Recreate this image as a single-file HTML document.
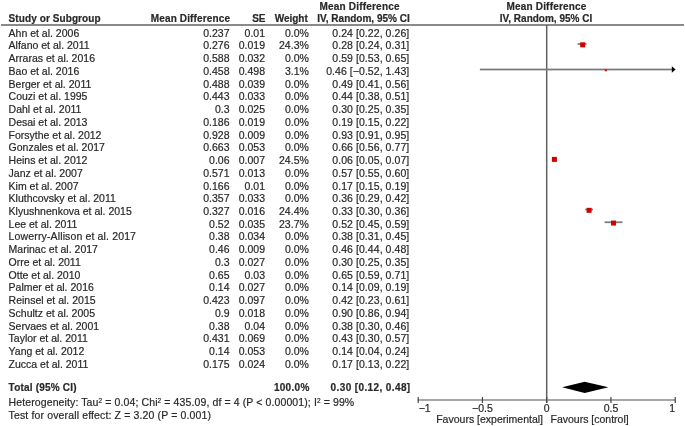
<!DOCTYPE html><html><head><meta charset="utf-8"><style>
html,body{margin:0;padding:0;background:#fff;width:685px;height:426px;overflow:hidden;position:relative}
.t{position:absolute;white-space:nowrap;-webkit-text-stroke:0.2px currentColor;line-height:12px;font-family:"Liberation Sans",sans-serif;color:#282828}
.b{position:absolute}
svg{position:absolute;left:0;top:0}
sup{font-size:62%;line-height:0;vertical-align:baseline;position:relative;top:-0.55em}
#w{position:absolute;left:0;top:0;width:685px;height:426px;filter:blur(0.35px)}
</style></head><body><div id="w">
<div class="t" style="top:0.54px;font-size:10px;transform:scaleY(1.0);transform-origin:0 9.46px;font-weight:bold;letter-spacing:0.2px;left:209.60px;width:300px;text-align:center;">Mean Difference</div>
<div class="t" style="top:0.54px;font-size:10px;transform:scaleY(1.0);transform-origin:0 9.46px;font-weight:bold;letter-spacing:0.2px;left:396.50px;width:300px;text-align:center;">Mean Difference</div>
<div class="t" style="top:13.14px;font-size:10px;transform:scaleY(1.0);transform-origin:0 9.46px;font-weight:bold;letter-spacing:0.09px;left:8.60px;">Study or Subgroup</div>
<div class="t" style="top:13.14px;font-size:10px;transform:scaleY(1.0);transform-origin:0 9.46px;font-weight:bold;letter-spacing:0.14px;right:454.86px;">Mean Difference</div>
<div class="t" style="top:13.14px;font-size:10px;transform:scaleY(1.0);transform-origin:0 9.46px;font-weight:bold;right:419.50px;">SE</div>
<div class="t" style="top:13.14px;font-size:10px;transform:scaleY(1.0);transform-origin:0 9.46px;font-weight:bold;right:377.20px;">Weight</div>
<div class="t" style="top:13.14px;font-size:10px;transform:scaleY(1.0);transform-origin:0 9.46px;font-weight:bold;right:275.30px;">IV, Random, 95% CI</div>
<div class="t" style="top:13.14px;font-size:10px;transform:scaleY(1.0);transform-origin:0 9.46px;font-weight:bold;left:396.00px;width:300px;text-align:center;">IV, Random, 95% CI</div>
<div class="t" style="top:26.76px;font-size:10.5px;transform:scaleY(1.0);transform-origin:0 9.64px;left:8.60px;">Ahn et al. 2006</div>
<div class="t" style="top:26.76px;font-size:10.5px;transform:scaleY(1.0);transform-origin:0 9.64px;right:455.50px;">0.237</div>
<div class="t" style="top:26.76px;font-size:10.5px;transform:scaleY(1.0);transform-origin:0 9.64px;right:420.00px;">0.01</div>
<div class="t" style="top:26.76px;font-size:10.5px;transform:scaleY(1.0);transform-origin:0 9.64px;right:376.20px;">0.0%</div>
<div class="t" style="top:26.76px;font-size:10.5px;transform:scaleY(1.0);transform-origin:0 9.64px;letter-spacing:0.06px;right:275.74px;">0.24 [0.22, 0.26]</div>
<div class="t" style="top:39.49px;font-size:10.5px;transform:scaleY(1.0);transform-origin:0 9.64px;left:8.60px;">Alfano et al. 2011</div>
<div class="t" style="top:39.49px;font-size:10.5px;transform:scaleY(1.0);transform-origin:0 9.64px;right:455.50px;">0.276</div>
<div class="t" style="top:39.49px;font-size:10.5px;transform:scaleY(1.0);transform-origin:0 9.64px;right:420.00px;">0.019</div>
<div class="t" style="top:39.49px;font-size:10.5px;transform:scaleY(1.0);transform-origin:0 9.64px;right:376.20px;">24.3%</div>
<div class="t" style="top:39.49px;font-size:10.5px;transform:scaleY(1.0);transform-origin:0 9.64px;letter-spacing:0.06px;right:275.74px;">0.28 [0.24, 0.31]</div>
<div class="t" style="top:52.22px;font-size:10.5px;transform:scaleY(1.0);transform-origin:0 9.64px;left:8.60px;">Arraras et al. 2016</div>
<div class="t" style="top:52.22px;font-size:10.5px;transform:scaleY(1.0);transform-origin:0 9.64px;right:455.50px;">0.588</div>
<div class="t" style="top:52.22px;font-size:10.5px;transform:scaleY(1.0);transform-origin:0 9.64px;right:420.00px;">0.032</div>
<div class="t" style="top:52.22px;font-size:10.5px;transform:scaleY(1.0);transform-origin:0 9.64px;right:376.20px;">0.0%</div>
<div class="t" style="top:52.22px;font-size:10.5px;transform:scaleY(1.0);transform-origin:0 9.64px;letter-spacing:0.06px;right:275.74px;">0.59 [0.53, 0.65]</div>
<div class="t" style="top:64.95px;font-size:10.5px;transform:scaleY(1.0);transform-origin:0 9.64px;left:8.60px;">Bao et al. 2016</div>
<div class="t" style="top:64.95px;font-size:10.5px;transform:scaleY(1.0);transform-origin:0 9.64px;right:455.50px;">0.458</div>
<div class="t" style="top:64.95px;font-size:10.5px;transform:scaleY(1.0);transform-origin:0 9.64px;right:420.00px;">0.498</div>
<div class="t" style="top:64.95px;font-size:10.5px;transform:scaleY(1.0);transform-origin:0 9.64px;right:376.20px;">3.1%</div>
<div class="t" style="top:64.95px;font-size:10.5px;transform:scaleY(1.0);transform-origin:0 9.64px;letter-spacing:0.06px;right:275.74px;">0.46 [−0.52, 1.43]</div>
<div class="t" style="top:77.68px;font-size:10.5px;transform:scaleY(1.0);transform-origin:0 9.64px;left:8.60px;">Berger et al. 2011</div>
<div class="t" style="top:77.68px;font-size:10.5px;transform:scaleY(1.0);transform-origin:0 9.64px;right:455.50px;">0.488</div>
<div class="t" style="top:77.68px;font-size:10.5px;transform:scaleY(1.0);transform-origin:0 9.64px;right:420.00px;">0.039</div>
<div class="t" style="top:77.68px;font-size:10.5px;transform:scaleY(1.0);transform-origin:0 9.64px;right:376.20px;">0.0%</div>
<div class="t" style="top:77.68px;font-size:10.5px;transform:scaleY(1.0);transform-origin:0 9.64px;letter-spacing:0.06px;right:275.74px;">0.49 [0.41, 0.56]</div>
<div class="t" style="top:90.41px;font-size:10.5px;transform:scaleY(1.0);transform-origin:0 9.64px;left:8.60px;">Couzi et al. 1995</div>
<div class="t" style="top:90.41px;font-size:10.5px;transform:scaleY(1.0);transform-origin:0 9.64px;right:455.50px;">0.443</div>
<div class="t" style="top:90.41px;font-size:10.5px;transform:scaleY(1.0);transform-origin:0 9.64px;right:420.00px;">0.033</div>
<div class="t" style="top:90.41px;font-size:10.5px;transform:scaleY(1.0);transform-origin:0 9.64px;right:376.20px;">0.0%</div>
<div class="t" style="top:90.41px;font-size:10.5px;transform:scaleY(1.0);transform-origin:0 9.64px;letter-spacing:0.06px;right:275.74px;">0.44 [0.38, 0.51]</div>
<div class="t" style="top:103.14px;font-size:10.5px;transform:scaleY(1.0);transform-origin:0 9.64px;left:8.60px;">Dahl et al. 2011</div>
<div class="t" style="top:103.14px;font-size:10.5px;transform:scaleY(1.0);transform-origin:0 9.64px;right:455.50px;">0.3</div>
<div class="t" style="top:103.14px;font-size:10.5px;transform:scaleY(1.0);transform-origin:0 9.64px;right:420.00px;">0.025</div>
<div class="t" style="top:103.14px;font-size:10.5px;transform:scaleY(1.0);transform-origin:0 9.64px;right:376.20px;">0.0%</div>
<div class="t" style="top:103.14px;font-size:10.5px;transform:scaleY(1.0);transform-origin:0 9.64px;letter-spacing:0.06px;right:275.74px;">0.30 [0.25, 0.35]</div>
<div class="t" style="top:115.87px;font-size:10.5px;transform:scaleY(1.0);transform-origin:0 9.64px;left:8.60px;">Desai et al. 2013</div>
<div class="t" style="top:115.87px;font-size:10.5px;transform:scaleY(1.0);transform-origin:0 9.64px;right:455.50px;">0.186</div>
<div class="t" style="top:115.87px;font-size:10.5px;transform:scaleY(1.0);transform-origin:0 9.64px;right:420.00px;">0.019</div>
<div class="t" style="top:115.87px;font-size:10.5px;transform:scaleY(1.0);transform-origin:0 9.64px;right:376.20px;">0.0%</div>
<div class="t" style="top:115.87px;font-size:10.5px;transform:scaleY(1.0);transform-origin:0 9.64px;letter-spacing:0.06px;right:275.74px;">0.19 [0.15, 0.22]</div>
<div class="t" style="top:128.60px;font-size:10.5px;transform:scaleY(1.0);transform-origin:0 9.64px;left:8.60px;">Forsythe et al. 2012</div>
<div class="t" style="top:128.60px;font-size:10.5px;transform:scaleY(1.0);transform-origin:0 9.64px;right:455.50px;">0.928</div>
<div class="t" style="top:128.60px;font-size:10.5px;transform:scaleY(1.0);transform-origin:0 9.64px;right:420.00px;">0.009</div>
<div class="t" style="top:128.60px;font-size:10.5px;transform:scaleY(1.0);transform-origin:0 9.64px;right:376.20px;">0.0%</div>
<div class="t" style="top:128.60px;font-size:10.5px;transform:scaleY(1.0);transform-origin:0 9.64px;letter-spacing:0.06px;right:275.74px;">0.93 [0.91, 0.95]</div>
<div class="t" style="top:141.33px;font-size:10.5px;transform:scaleY(1.0);transform-origin:0 9.64px;left:8.60px;">Gonzales et al. 2017</div>
<div class="t" style="top:141.33px;font-size:10.5px;transform:scaleY(1.0);transform-origin:0 9.64px;right:455.50px;">0.663</div>
<div class="t" style="top:141.33px;font-size:10.5px;transform:scaleY(1.0);transform-origin:0 9.64px;right:420.00px;">0.053</div>
<div class="t" style="top:141.33px;font-size:10.5px;transform:scaleY(1.0);transform-origin:0 9.64px;right:376.20px;">0.0%</div>
<div class="t" style="top:141.33px;font-size:10.5px;transform:scaleY(1.0);transform-origin:0 9.64px;letter-spacing:0.06px;right:275.74px;">0.66 [0.56, 0.77]</div>
<div class="t" style="top:154.06px;font-size:10.5px;transform:scaleY(1.0);transform-origin:0 9.64px;left:8.60px;">Heins et al. 2012</div>
<div class="t" style="top:154.06px;font-size:10.5px;transform:scaleY(1.0);transform-origin:0 9.64px;right:455.50px;">0.06</div>
<div class="t" style="top:154.06px;font-size:10.5px;transform:scaleY(1.0);transform-origin:0 9.64px;right:420.00px;">0.007</div>
<div class="t" style="top:154.06px;font-size:10.5px;transform:scaleY(1.0);transform-origin:0 9.64px;right:376.20px;">24.5%</div>
<div class="t" style="top:154.06px;font-size:10.5px;transform:scaleY(1.0);transform-origin:0 9.64px;letter-spacing:0.06px;right:275.74px;">0.06 [0.05, 0.07]</div>
<div class="t" style="top:166.79px;font-size:10.5px;transform:scaleY(1.0);transform-origin:0 9.64px;left:8.60px;">Janz et al. 2007</div>
<div class="t" style="top:166.79px;font-size:10.5px;transform:scaleY(1.0);transform-origin:0 9.64px;right:455.50px;">0.571</div>
<div class="t" style="top:166.79px;font-size:10.5px;transform:scaleY(1.0);transform-origin:0 9.64px;right:420.00px;">0.013</div>
<div class="t" style="top:166.79px;font-size:10.5px;transform:scaleY(1.0);transform-origin:0 9.64px;right:376.20px;">0.0%</div>
<div class="t" style="top:166.79px;font-size:10.5px;transform:scaleY(1.0);transform-origin:0 9.64px;letter-spacing:0.06px;right:275.74px;">0.57 [0.55, 0.60]</div>
<div class="t" style="top:179.52px;font-size:10.5px;transform:scaleY(1.0);transform-origin:0 9.64px;left:8.60px;">Kim et al. 2007</div>
<div class="t" style="top:179.52px;font-size:10.5px;transform:scaleY(1.0);transform-origin:0 9.64px;right:455.50px;">0.166</div>
<div class="t" style="top:179.52px;font-size:10.5px;transform:scaleY(1.0);transform-origin:0 9.64px;right:420.00px;">0.01</div>
<div class="t" style="top:179.52px;font-size:10.5px;transform:scaleY(1.0);transform-origin:0 9.64px;right:376.20px;">0.0%</div>
<div class="t" style="top:179.52px;font-size:10.5px;transform:scaleY(1.0);transform-origin:0 9.64px;letter-spacing:0.06px;right:275.74px;">0.17 [0.15, 0.19]</div>
<div class="t" style="top:192.25px;font-size:10.5px;transform:scaleY(1.0);transform-origin:0 9.64px;left:8.60px;">Kluthcovsky et al. 2011</div>
<div class="t" style="top:192.25px;font-size:10.5px;transform:scaleY(1.0);transform-origin:0 9.64px;right:455.50px;">0.357</div>
<div class="t" style="top:192.25px;font-size:10.5px;transform:scaleY(1.0);transform-origin:0 9.64px;right:420.00px;">0.033</div>
<div class="t" style="top:192.25px;font-size:10.5px;transform:scaleY(1.0);transform-origin:0 9.64px;right:376.20px;">0.0%</div>
<div class="t" style="top:192.25px;font-size:10.5px;transform:scaleY(1.0);transform-origin:0 9.64px;letter-spacing:0.06px;right:275.74px;">0.36 [0.29, 0.42]</div>
<div class="t" style="top:204.98px;font-size:10.5px;transform:scaleY(1.0);transform-origin:0 9.64px;left:8.60px;">Klyushnenkova et al. 2015</div>
<div class="t" style="top:204.98px;font-size:10.5px;transform:scaleY(1.0);transform-origin:0 9.64px;right:455.50px;">0.327</div>
<div class="t" style="top:204.98px;font-size:10.5px;transform:scaleY(1.0);transform-origin:0 9.64px;right:420.00px;">0.016</div>
<div class="t" style="top:204.98px;font-size:10.5px;transform:scaleY(1.0);transform-origin:0 9.64px;right:376.20px;">24.4%</div>
<div class="t" style="top:204.98px;font-size:10.5px;transform:scaleY(1.0);transform-origin:0 9.64px;letter-spacing:0.06px;right:275.74px;">0.33 [0.30, 0.36]</div>
<div class="t" style="top:217.71px;font-size:10.5px;transform:scaleY(1.0);transform-origin:0 9.64px;left:8.60px;">Lee et al. 2011</div>
<div class="t" style="top:217.71px;font-size:10.5px;transform:scaleY(1.0);transform-origin:0 9.64px;right:455.50px;">0.52</div>
<div class="t" style="top:217.71px;font-size:10.5px;transform:scaleY(1.0);transform-origin:0 9.64px;right:420.00px;">0.035</div>
<div class="t" style="top:217.71px;font-size:10.5px;transform:scaleY(1.0);transform-origin:0 9.64px;right:376.20px;">23.7%</div>
<div class="t" style="top:217.71px;font-size:10.5px;transform:scaleY(1.0);transform-origin:0 9.64px;letter-spacing:0.06px;right:275.74px;">0.52 [0.45, 0.59]</div>
<div class="t" style="top:230.44px;font-size:10.5px;transform:scaleY(1.0);transform-origin:0 9.64px;letter-spacing:0.14px;left:8.60px;">Lowerry-Allison et al. 2017</div>
<div class="t" style="top:230.44px;font-size:10.5px;transform:scaleY(1.0);transform-origin:0 9.64px;right:455.50px;">0.38</div>
<div class="t" style="top:230.44px;font-size:10.5px;transform:scaleY(1.0);transform-origin:0 9.64px;right:420.00px;">0.034</div>
<div class="t" style="top:230.44px;font-size:10.5px;transform:scaleY(1.0);transform-origin:0 9.64px;right:376.20px;">0.0%</div>
<div class="t" style="top:230.44px;font-size:10.5px;transform:scaleY(1.0);transform-origin:0 9.64px;letter-spacing:0.06px;right:275.74px;">0.38 [0.31, 0.45]</div>
<div class="t" style="top:243.17px;font-size:10.5px;transform:scaleY(1.0);transform-origin:0 9.64px;left:8.60px;">Marinac et al. 2017</div>
<div class="t" style="top:243.17px;font-size:10.5px;transform:scaleY(1.0);transform-origin:0 9.64px;right:455.50px;">0.46</div>
<div class="t" style="top:243.17px;font-size:10.5px;transform:scaleY(1.0);transform-origin:0 9.64px;right:420.00px;">0.009</div>
<div class="t" style="top:243.17px;font-size:10.5px;transform:scaleY(1.0);transform-origin:0 9.64px;right:376.20px;">0.0%</div>
<div class="t" style="top:243.17px;font-size:10.5px;transform:scaleY(1.0);transform-origin:0 9.64px;letter-spacing:0.06px;right:275.74px;">0.46 [0.44, 0.48]</div>
<div class="t" style="top:255.90px;font-size:10.5px;transform:scaleY(1.0);transform-origin:0 9.64px;left:8.60px;">Orre et al. 2011</div>
<div class="t" style="top:255.90px;font-size:10.5px;transform:scaleY(1.0);transform-origin:0 9.64px;right:455.50px;">0.3</div>
<div class="t" style="top:255.90px;font-size:10.5px;transform:scaleY(1.0);transform-origin:0 9.64px;right:420.00px;">0.027</div>
<div class="t" style="top:255.90px;font-size:10.5px;transform:scaleY(1.0);transform-origin:0 9.64px;right:376.20px;">0.0%</div>
<div class="t" style="top:255.90px;font-size:10.5px;transform:scaleY(1.0);transform-origin:0 9.64px;letter-spacing:0.06px;right:275.74px;">0.30 [0.25, 0.35]</div>
<div class="t" style="top:268.63px;font-size:10.5px;transform:scaleY(1.0);transform-origin:0 9.64px;left:8.60px;">Otte et al. 2010</div>
<div class="t" style="top:268.63px;font-size:10.5px;transform:scaleY(1.0);transform-origin:0 9.64px;right:455.50px;">0.65</div>
<div class="t" style="top:268.63px;font-size:10.5px;transform:scaleY(1.0);transform-origin:0 9.64px;right:420.00px;">0.03</div>
<div class="t" style="top:268.63px;font-size:10.5px;transform:scaleY(1.0);transform-origin:0 9.64px;right:376.20px;">0.0%</div>
<div class="t" style="top:268.63px;font-size:10.5px;transform:scaleY(1.0);transform-origin:0 9.64px;letter-spacing:0.06px;right:275.74px;">0.65 [0.59, 0.71]</div>
<div class="t" style="top:281.36px;font-size:10.5px;transform:scaleY(1.0);transform-origin:0 9.64px;left:8.60px;">Palmer et al. 2016</div>
<div class="t" style="top:281.36px;font-size:10.5px;transform:scaleY(1.0);transform-origin:0 9.64px;right:455.50px;">0.14</div>
<div class="t" style="top:281.36px;font-size:10.5px;transform:scaleY(1.0);transform-origin:0 9.64px;right:420.00px;">0.027</div>
<div class="t" style="top:281.36px;font-size:10.5px;transform:scaleY(1.0);transform-origin:0 9.64px;right:376.20px;">0.0%</div>
<div class="t" style="top:281.36px;font-size:10.5px;transform:scaleY(1.0);transform-origin:0 9.64px;letter-spacing:0.06px;right:275.74px;">0.14 [0.09, 0.19]</div>
<div class="t" style="top:294.09px;font-size:10.5px;transform:scaleY(1.0);transform-origin:0 9.64px;left:8.60px;">Reinsel et al. 2015</div>
<div class="t" style="top:294.09px;font-size:10.5px;transform:scaleY(1.0);transform-origin:0 9.64px;right:455.50px;">0.423</div>
<div class="t" style="top:294.09px;font-size:10.5px;transform:scaleY(1.0);transform-origin:0 9.64px;right:420.00px;">0.097</div>
<div class="t" style="top:294.09px;font-size:10.5px;transform:scaleY(1.0);transform-origin:0 9.64px;right:376.20px;">0.0%</div>
<div class="t" style="top:294.09px;font-size:10.5px;transform:scaleY(1.0);transform-origin:0 9.64px;letter-spacing:0.06px;right:275.74px;">0.42 [0.23, 0.61]</div>
<div class="t" style="top:306.82px;font-size:10.5px;transform:scaleY(1.0);transform-origin:0 9.64px;left:8.60px;">Schultz et al. 2005</div>
<div class="t" style="top:306.82px;font-size:10.5px;transform:scaleY(1.0);transform-origin:0 9.64px;right:455.50px;">0.9</div>
<div class="t" style="top:306.82px;font-size:10.5px;transform:scaleY(1.0);transform-origin:0 9.64px;right:420.00px;">0.018</div>
<div class="t" style="top:306.82px;font-size:10.5px;transform:scaleY(1.0);transform-origin:0 9.64px;right:376.20px;">0.0%</div>
<div class="t" style="top:306.82px;font-size:10.5px;transform:scaleY(1.0);transform-origin:0 9.64px;letter-spacing:0.06px;right:275.74px;">0.90 [0.86, 0.94]</div>
<div class="t" style="top:319.55px;font-size:10.5px;transform:scaleY(1.0);transform-origin:0 9.64px;left:8.60px;">Servaes et al. 2001</div>
<div class="t" style="top:319.55px;font-size:10.5px;transform:scaleY(1.0);transform-origin:0 9.64px;right:455.50px;">0.38</div>
<div class="t" style="top:319.55px;font-size:10.5px;transform:scaleY(1.0);transform-origin:0 9.64px;right:420.00px;">0.04</div>
<div class="t" style="top:319.55px;font-size:10.5px;transform:scaleY(1.0);transform-origin:0 9.64px;right:376.20px;">0.0%</div>
<div class="t" style="top:319.55px;font-size:10.5px;transform:scaleY(1.0);transform-origin:0 9.64px;letter-spacing:0.06px;right:275.74px;">0.38 [0.30, 0.46]</div>
<div class="t" style="top:332.28px;font-size:10.5px;transform:scaleY(1.0);transform-origin:0 9.64px;left:8.60px;">Taylor et al. 2011</div>
<div class="t" style="top:332.28px;font-size:10.5px;transform:scaleY(1.0);transform-origin:0 9.64px;right:455.50px;">0.431</div>
<div class="t" style="top:332.28px;font-size:10.5px;transform:scaleY(1.0);transform-origin:0 9.64px;right:420.00px;">0.069</div>
<div class="t" style="top:332.28px;font-size:10.5px;transform:scaleY(1.0);transform-origin:0 9.64px;right:376.20px;">0.0%</div>
<div class="t" style="top:332.28px;font-size:10.5px;transform:scaleY(1.0);transform-origin:0 9.64px;letter-spacing:0.06px;right:275.74px;">0.43 [0.30, 0.57]</div>
<div class="t" style="top:345.01px;font-size:10.5px;transform:scaleY(1.0);transform-origin:0 9.64px;left:8.60px;">Yang et al. 2012</div>
<div class="t" style="top:345.01px;font-size:10.5px;transform:scaleY(1.0);transform-origin:0 9.64px;right:455.50px;">0.14</div>
<div class="t" style="top:345.01px;font-size:10.5px;transform:scaleY(1.0);transform-origin:0 9.64px;right:420.00px;">0.053</div>
<div class="t" style="top:345.01px;font-size:10.5px;transform:scaleY(1.0);transform-origin:0 9.64px;right:376.20px;">0.0%</div>
<div class="t" style="top:345.01px;font-size:10.5px;transform:scaleY(1.0);transform-origin:0 9.64px;letter-spacing:0.06px;right:275.74px;">0.14 [0.04, 0.24]</div>
<div class="t" style="top:357.74px;font-size:10.5px;transform:scaleY(1.0);transform-origin:0 9.64px;left:8.60px;">Zucca et al. 2011</div>
<div class="t" style="top:357.74px;font-size:10.5px;transform:scaleY(1.0);transform-origin:0 9.64px;right:455.50px;">0.175</div>
<div class="t" style="top:357.74px;font-size:10.5px;transform:scaleY(1.0);transform-origin:0 9.64px;right:420.00px;">0.024</div>
<div class="t" style="top:357.74px;font-size:10.5px;transform:scaleY(1.0);transform-origin:0 9.64px;right:376.20px;">0.0%</div>
<div class="t" style="top:357.74px;font-size:10.5px;transform:scaleY(1.0);transform-origin:0 9.64px;letter-spacing:0.06px;right:275.74px;">0.17 [0.13, 0.22]</div>
<div class="t" style="top:381.94px;font-size:10px;transform:scaleY(1.0);transform-origin:0 9.46px;font-weight:bold;letter-spacing:0.2px;left:8.60px;">Total (95% CI)</div>
<div class="t" style="top:381.94px;font-size:10px;transform:scaleY(1.0);transform-origin:0 9.46px;font-weight:bold;letter-spacing:0.3px;right:375.40px;">100.0%</div>
<div class="t" style="top:381.94px;font-size:10px;transform:scaleY(1.0);transform-origin:0 9.46px;font-weight:bold;letter-spacing:0.39px;right:274.41px;">0.30 [0.12, 0.48]</div>
<div class="t" style="top:396.36px;font-size:10.5px;transform:scaleY(1.0);transform-origin:0 9.64px;letter-spacing:0.11px;left:8.60px;">Heterogeneity: Tau<sup>2</sup> = 0.04; Chi<sup>2</sup> = 435.09, df = 4 (P &lt; 0.00001); I<sup>2</sup> = 99%</div>
<div class="t" style="top:408.86px;font-size:10.5px;transform:scaleY(1.0);transform-origin:0 9.64px;letter-spacing:0.14px;left:8.60px;">Test for overall effect: Z = 3.20 (P = 0.001)</div>
<div class="t" style="top:401.86px;font-size:10.5px;transform:scaleY(1.0);transform-origin:0 9.64px;left:418.70px;">−1</div>
<div class="t" style="top:401.86px;font-size:10.5px;transform:scaleY(1.0);transform-origin:0 9.64px;left:332.45px;width:300px;text-align:center;">−0.5</div>
<div class="t" style="top:401.86px;font-size:10.5px;transform:scaleY(1.0);transform-origin:0 9.64px;left:396.70px;width:300px;text-align:center;">0</div>
<div class="t" style="top:401.86px;font-size:10.5px;transform:scaleY(1.0);transform-origin:0 9.64px;left:460.95px;width:300px;text-align:center;">0.5</div>
<div class="t" style="top:401.86px;font-size:10.5px;transform:scaleY(1.0);transform-origin:0 9.64px;right:9.80px;">1</div>
<div class="t" style="top:412.66px;font-size:10.5px;transform:scaleY(1.0);transform-origin:0 9.64px;right:142.00px;">Favours [experimental]</div>
<div class="t" style="top:412.66px;font-size:10.5px;transform:scaleY(1.0);transform-origin:0 9.64px;left:550.50px;">Favours [control]</div>
<svg width="685" height="426" viewBox="0 0 685 426"><rect x="1" y="24" width="683" height="2" fill="#8a8a8a"/><rect x="545.95" y="25" width="1.5" height="378.00" fill="#606060"/><rect x="417.70" y="399.25" width="258.00" height="1.5" fill="#8a8a8a"/><rect x="417.60" y="397.00" width="1.2" height="6" fill="#444"/><rect x="481.85" y="397.00" width="1.2" height="6" fill="#444"/><rect x="546.10" y="397.00" width="1.2" height="6" fill="#444"/><rect x="610.35" y="397.00" width="1.2" height="6" fill="#444"/><rect x="674.60" y="397.00" width="1.2" height="6" fill="#444"/><rect x="577.54" y="43.15" width="9.00" height="1.75" fill="#7a7a7a"/><rect x="580.18" y="42.33" width="5" height="5.00" fill="#d20000"/><rect x="479.88" y="68.62" width="192.12" height="1.75" fill="#7a7a7a"/><polygon points="671.8,66.29 671.8,72.69 675.6,69.49" fill="#000"/><rect x="604.81" y="69.29" width="2" height="2.00" fill="#d20000"/><rect x="553.12" y="157.73" width="2.57" height="1.75" fill="#7a7a7a"/><rect x="551.91" y="156.90" width="5" height="5.00" fill="#d20000"/><rect x="585.25" y="208.65" width="7.71" height="1.75" fill="#7a7a7a"/><rect x="586.61" y="207.82" width="5" height="5.00" fill="#d20000"/><rect x="604.53" y="221.38" width="17.99" height="1.75" fill="#7a7a7a"/><rect x="611.02" y="220.55" width="5" height="5.00" fill="#d20000"/><polygon points="562.12,387.30 584.7,381.70 608.38,387.30 584.7,392.90" fill="#000"/></svg>
</div></body></html>
